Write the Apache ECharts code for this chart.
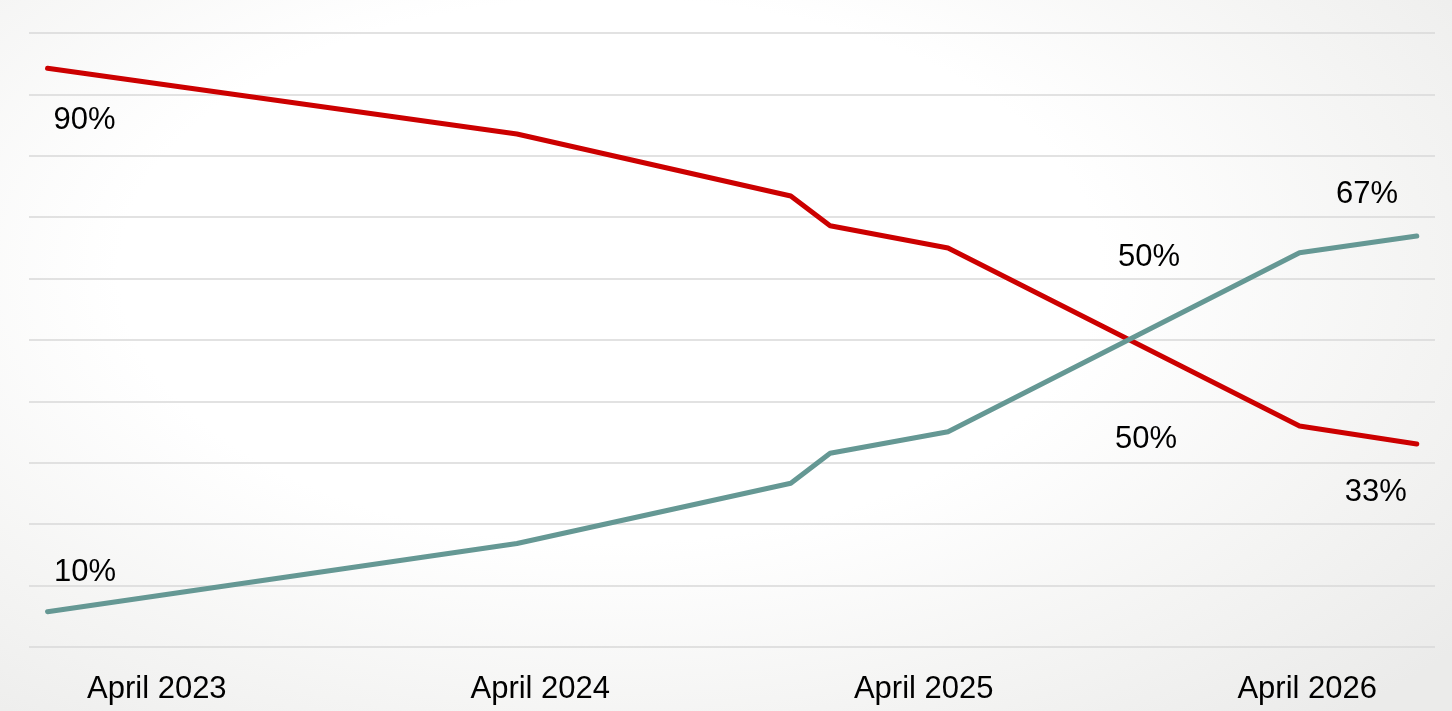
<!DOCTYPE html>
<html>
<head>
<meta charset="utf-8">
<script src="https://cdn.jsdelivr.net/npm/echarts@6/dist/echarts.min.js"></script>
<style>
  html, body { margin: 0; padding: 0; }
  body {
    width: 1452px; height: 711px; overflow: hidden;
    background: radial-gradient(ellipse 75% 85% at 42% 38%, #ffffff 45%, #f4f4f3 75%, #ebebea 100%);
  }
  #chart { width: 1452px; height: 711px; }
</style>
</head>
<body>
<div id="chart"></div>
<script>
// x values: months since January 2023 (0 = Jan 2023)
const monthIndex = [-0.42, 14.27, 22.84, 24.07, 27.76, 38.76, 42.43];
// share values (%)
const redSeries  = [94.25, 83.55, 73.45, 68.6, 64.98, 35.99, 33.06];
const tealSeries = [5.75, 16.86, 26.66, 31.55, 35.07, 64.22, 66.94];

// x-axis tick labels
const tickMonths = [3, 15, 27, 39];
const tickLabels = ['April 2023', 'April 2024', 'April 2025', 'April 2026'];

// text annotations: month, value, text
const noteMonths = [0.74, 0.75, 34.05, 33.96, 40.87, 41.15];
const noteValues = [85.75, 12.08, 63.39, 33.83, 73.73, 25.11];
const noteTexts  = ['90%', '10%', '50%', '50%', '67%', '33%'];

const FONT = '"Liberation Sans", Arial, Helvetica, sans-serif';

const chart = echarts.init(document.getElementById('chart'), null, { renderer: 'canvas' });

chart.setOption({
  animation: false,
  backgroundColor: 'transparent',
  grid: { left: 29, right: 17, top: 33, bottom: 64, containLabel: false },
  xAxis: {
    type: 'value',
    min: -1,
    max: 43,
    axisLine: { show: false },
    axisTick: { show: false },
    splitLine: { show: false },
    axisLabel: {
      customValues: tickMonths,
      margin: 27,
      fontSize: 31,
      fontFamily: FONT,
      color: '#000',
      formatter: function (v) {
        const i = tickMonths.indexOf(v);
        return i >= 0 ? tickLabels[i] : '';
      }
    }
  },
  yAxis: {
    type: 'value',
    min: 0,
    max: 100,
    interval: 10,
    axisLine: { show: false },
    axisTick: { show: false },
    axisLabel: { show: false },
    splitLine: { show: true, lineStyle: { color: '#d9d9d9', width: 1.5 } }
  },
  series: [
    {
      type: 'line',
      data: monthIndex.map((m, i) => [m, redSeries[i]]),
      symbol: 'none',
      lineStyle: { color: '#cc0000', width: 5, cap: 'round', join: 'round' },
      z: 3
    },
    {
      type: 'line',
      data: monthIndex.map((m, i) => [m, tealSeries[i]]),
      symbol: 'none',
      lineStyle: { color: '#659894', width: 5, cap: 'round', join: 'round' },
      z: 4
    },
    {
      type: 'scatter',
      symbolSize: 0,
      silent: true,
      itemStyle: { opacity: 1 },
      data: noteMonths.map((m, i) => [m, noteValues[i], noteTexts[i]]),
      label: {
        show: true,
        position: 'inside',
        formatter: p => p.data[2],
        fontSize: 31,
        fontFamily: FONT,
        color: '#000',
        opacity: 1
      },
      z: 5
    }
  ]
});
</script>
</body>
</html>
